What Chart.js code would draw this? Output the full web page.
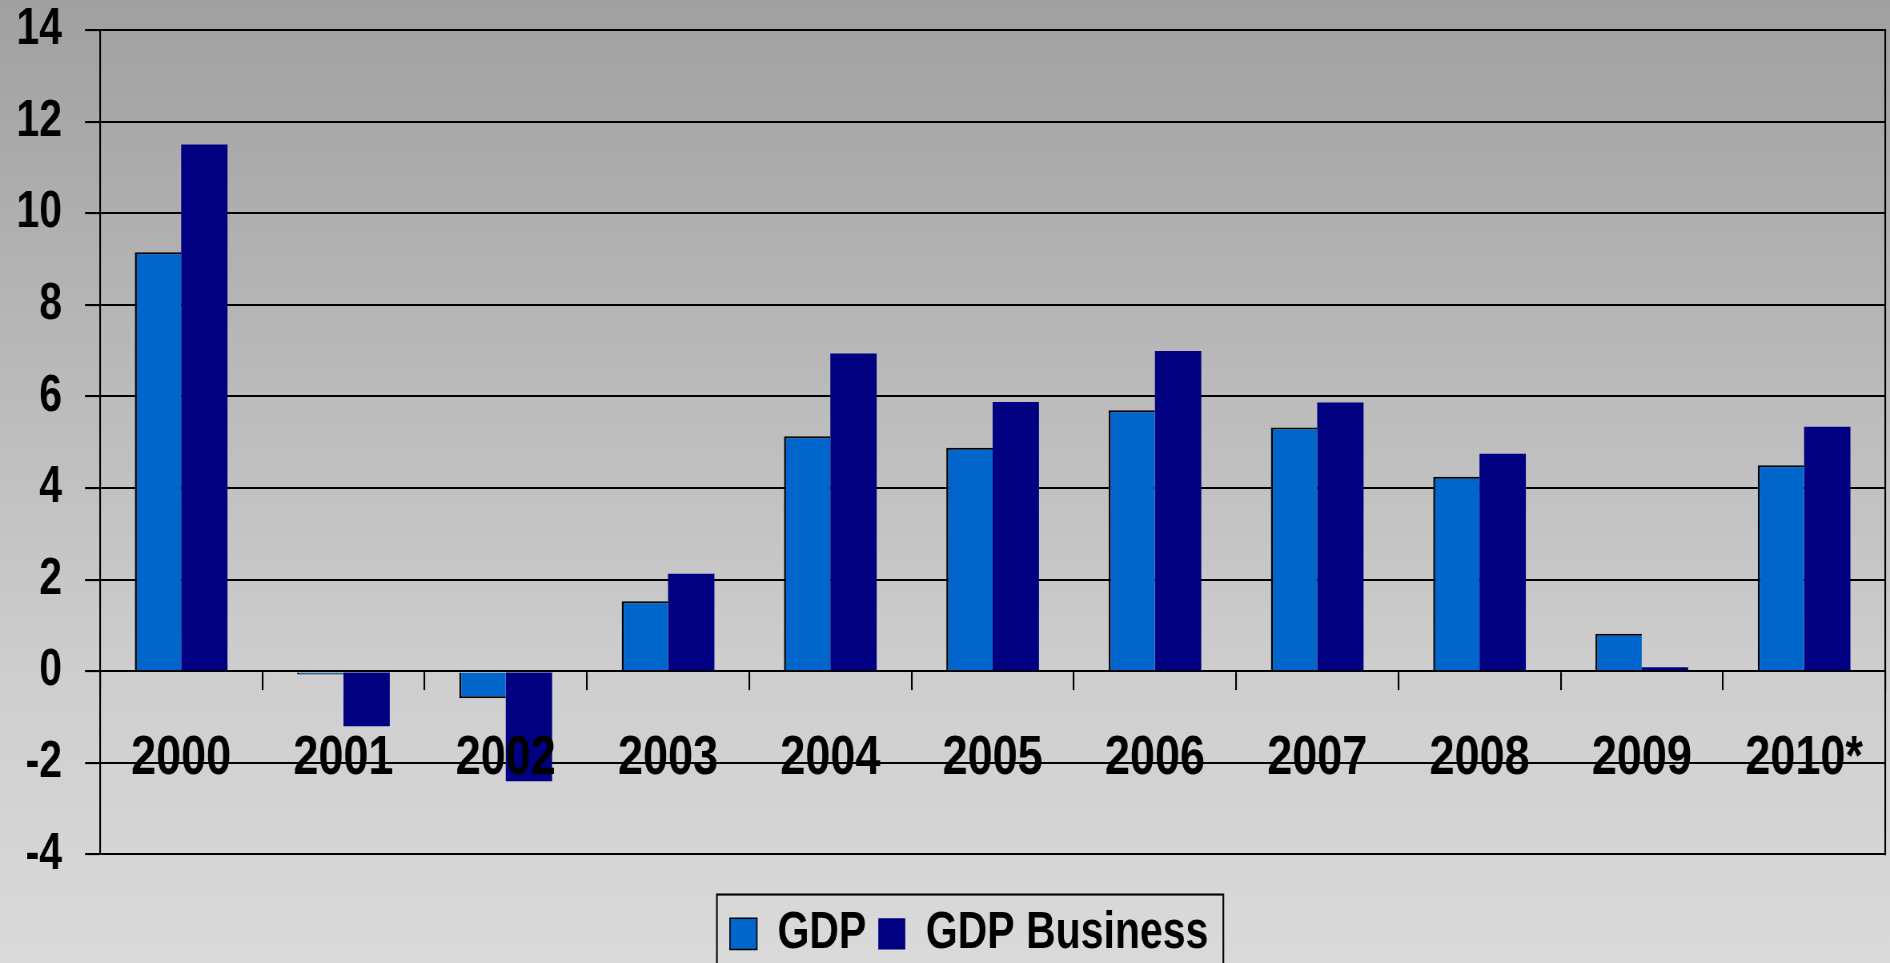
<!DOCTYPE html>
<html>
<head>
<meta charset="utf-8">
<title>GDP growth</title>
<script src="https://cdn.jsdelivr.net/npm/chart.js@4.4.1/dist/chart.umd.min.js"></script>
<style>
  html, body {
    margin: 0;
    padding: 0;
    overflow: hidden;
  }
  html {
    background: linear-gradient(to bottom, #a0a0a0 0%, #b7b7b7 35%, #cecece 70%, #dadada 100%);
    height: 100%;
  }
  /* the chart is laid out 778px tall and shown 972px tall: narrow, tall lettering */
  #gdpChart {
    display: block;
    width: 1890px !important;
    height: 972px !important;
  }
</style>
</head>
<body>
<canvas id="gdpChart" width="1890" height="778"></canvas>
<script>
const years = ["2000", "2001", "2002", "2003", "2004", "2005", "2006", "2007", "2008", "2009", "2010*"];
const gdp = [9.15, -0.07, -0.59, 1.53, 5.13, 4.88, 5.70, 5.32, 4.25, 0.82, 4.50];
const gdpBusiness = [11.50, -1.20, -2.40, 2.13, 6.94, 5.88, 6.99, 5.87, 4.75, 0.09, 5.34];
const yMin = -4;
const yMax = 14;
const yStep = 2;

const stretchY = 972 / 778;
const fontFamily = "'Liberation Sans', Arial, sans-serif";
const lineW = 1.7;

// nudge the legend right and draw a frame round it that runs off the bottom edge
const legendShift = 24;
const legendFrame = {
  id: "legendFrame",
  afterUpdate(chart) {
    const lg = chart.legend;
    if (!lg) return;
    lg.left += legendShift;
    lg.right += legendShift;
    lg.legendHitBoxes.forEach(b => { b.left += legendShift; });
  },
  afterDraw(chart) {
    const lg = chart.legend;
    if (!lg || !lg.legendHitBoxes.length) return;
    const boxes = lg.legendHitBoxes;
    const left = Math.min(...boxes.map(b => b.left)) - 13;
    const right = Math.max(...boxes.map(b => b.left + b.width)) + 15;
    const top = lg.top + 32;
    const c = chart.ctx;
    c.save();
    c.strokeStyle = "#000";
    c.lineWidth = lineW;
    c.strokeRect(left, top, right - left, chart.height - top + 20);
    c.restore();
  }
};

const ctx = document.getElementById("gdpChart").getContext("2d");
new Chart(ctx, {
  type: "bar",
  data: {
    labels: years,
    datasets: [
      {
        label: "GDP",
        data: gdp,
        backgroundColor: "#0066cc",
        borderColor: "#000000",
        borderWidth: { top: 1.6, left: 2, right: 0, bottom: 1.6 },
        borderSkipped: "start",
        categoryPercentage: 0.571,
        barPercentage: 1.0
      },
      {
        label: "GDP Business",
        data: gdpBusiness,
        backgroundColor: "#000080",
        borderColor: "#000080",
        borderWidth: 0,
        categoryPercentage: 0.571,
        barPercentage: 1.0
      }
    ]
  },
  options: {
    responsive: false,
    devicePixelRatio: stretchY,
    animation: false,
    layout: { padding: { left: 0, top: 24, right: 0, bottom: 0 } },
    plugins: {
      tooltip: { enabled: false },
      legend: {
        position: "bottom",
        title: {
          display: true,
          text: "",
          font: { size: 10, lineHeight: 1 },
          padding: { top: 21, bottom: 0 }
        },
        labels: {
          color: "#000",
          boxWidth: 27,
          boxHeight: 25,
          padding: 12,
          font: { family: fontFamily, size: 41, weight: "bold", lineHeight: 1 }
        }
      }
    },
    scales: {
      x: {
        position: { y: 0 },
        grid: {
          offset: true,
          drawOnChartArea: false,
          drawTicks: true,
          tickLength: 14.4,
          color: "#000",
          lineWidth: lineW
        },
        border: { display: true, color: "#000", width: lineW },
        ticks: {
          z: 1,
          color: "#000",
          padding: 33,
          maxRotation: 0,
          autoSkip: false,
          font: { family: fontFamily, size: 45, weight: "bold", lineHeight: 1 }
        },
        afterFit(scale) {
          scale.paddingLeft = 0;
          scale.paddingRight = 0;
        }
      },
      y: {
        min: yMin,
        max: yMax,
        grid: {
          color: "#000",
          lineWidth: lineW,
          tickLength: 15,
          drawTicks: true
        },
        border: { display: true, color: "#000", width: lineW },
        ticks: {
          stepSize: yStep,
          color: "#000",
          padding: 23,
          font: { family: fontFamily, size: 41, weight: "bold", lineHeight: 1 }
        },
        afterFit(scale) {
          scale.width = 100;
          scale.paddingTop = 0;
          scale.paddingBottom = 0;
        }
      },
      yRight: {
        type: "linear",
        axis: "y",
        position: "right",
        grid: { drawOnChartArea: false, drawTicks: false },
        border: { display: true, color: "#000", width: lineW },
        ticks: { display: false },
        afterFit(scale) {
          scale.width = 5;
          scale.paddingTop = 0;
          scale.paddingBottom = 0;
        }
      }
    }
  },
  plugins: [legendFrame]
});
</script>
</body>
</html>
